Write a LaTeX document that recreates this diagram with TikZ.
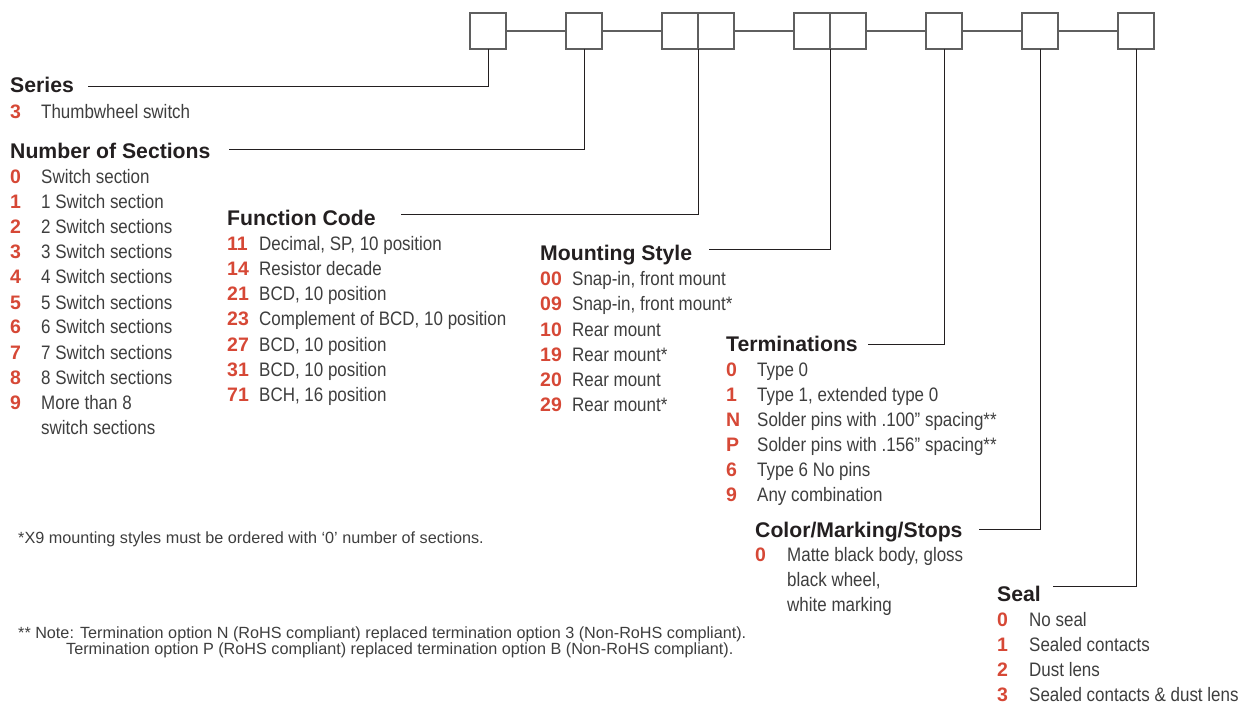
\documentclass[tikz,border=0pt]{standalone}
\usepackage{fontspec}
\setmainfont{Liberation Sans}
\newfontfamily\condfont{Liberation Sans}[FakeStretch=0.87]
\definecolor{codered}{RGB}{214,72,54}
\definecolor{headblack}{RGB}{35,31,32}
\definecolor{bodygray}{RGB}{62,62,62}
\definecolor{boxgray}{RGB}{95,95,95}
\tikzset{
 codebox/.style={draw=boxgray, line width=1.4pt, minimum width=36pt, minimum height=36pt, inner sep=0pt, outer sep=0pt, anchor=north west},
 head/.style={anchor=base west, inner sep=0pt, text=headblack, font=\fontsize{21.2}{24}\selectfont\bfseries},
 num/.style={anchor=base west, inner sep=0pt, text=codered, font=\fontsize{19.5}{24}\selectfont\bfseries},
 desc/.style={anchor=base west, inner sep=0pt, text=bodygray, font=\condfont\fontsize{19.5}{24}\selectfont},
 note/.style={anchor=base west, inner sep=0pt, text=bodygray, font=\fontsize{16.2}{18}\selectfont},
 leader/.style={draw=headblack, line width=1pt},
 chain/.style={draw=boxgray, line width=1.4pt},
}
\newcommand\optrow[6]{%
 \node[num] (#1-n) at (#2,#4) {#5};
 \node[desc] (#1-t) at (#3,#4) {#6};}
\begin{document}
\begin{tikzpicture}[x=1pt,y=-1pt]
\useasboundingbox (0,0) rectangle (1242,703);
% code boxes
\node[codebox] (b1) at (470,13) {};
\node[codebox] (b2) at (566,13) {};
\node[codebox] (b3a) at (662,13) {};
\node[codebox] (b3b) at (698,13) {};
\node[codebox] (b4a) at (794,13) {};
\node[codebox] (b4b) at (830,13) {};
\node[codebox] (b5) at (926,13) {};
\node[codebox] (b6) at (1022,13) {};
\node[codebox] (b7) at (1118,13) {};
\draw[chain] (b1.east) -- (b2.west);
\draw[chain] (b2.east) -- (b3a.west);
\draw[chain] (b3b.east) -- (b4a.west);
\draw[chain] (b4b.east) -- (b5.west);
\draw[chain] (b5.east) -- (b6.west);
\draw[chain] (b6.east) -- (b7.west);
% leader starts
\coordinate (l1) at (88,87);
\coordinate (l2) at (229,150);
\coordinate (l3) at (401,215);
\coordinate (l4) at (709,250);
\coordinate (l5) at (868,344);
\coordinate (l6) at (979,529);
\coordinate (l7) at (1053,586);
\draw[leader] (l1) -| (b1.south);
\draw[leader] (l2) -| (b2.south);
\draw[leader] (l3) -| (b3a.south east);
\draw[leader] (l4) -| (b4a.south east);
\draw[leader] (l5) -| (b5.south);
\draw[leader] (l6) -| (b6.south);
\draw[leader] (l7) -| (b7.south);
% Series
\node[head] (hser) at (10,93) {Series};
\optrow{ser3}{10}{41}{119}{3}{Thumbwheel switch}
% Number of sections
\node[head] (hns) at (10,159) {Number of Sections};
\optrow{ns0}{10}{41}{184}{0}{Switch section}
\optrow{ns1}{10}{41}{209}{1}{1 Switch section}
\optrow{ns2}{10}{41}{234}{2}{2 Switch sections}
\optrow{ns3}{10}{41}{259}{3}{3 Switch sections}
\optrow{ns4}{10}{41}{284}{4}{4 Switch sections}
\optrow{ns5}{10}{41}{309}{5}{5 Switch sections}
\optrow{ns6}{10}{41}{334}{6}{6 Switch sections}
\optrow{ns7}{10}{41}{359}{7}{7 Switch sections}
\optrow{ns8}{10}{41}{384}{8}{8 Switch sections}
\optrow{ns9}{10}{41}{409}{9}{More than 8}
\node[desc] (ns9b) at (41,434) {switch sections};
% Function code
\node[head] (hfc) at (227,226) {Function Code};
\optrow{fc11}{227}{259}{251}{11}{Decimal, SP, 10 position}
\optrow{fc14}{227}{259}{276}{14}{Resistor decade}
\optrow{fc21}{227}{259}{301}{21}{BCD, 10 position}
\optrow{fc23}{227}{259}{326}{23}{Complement of BCD, 10 position}
\optrow{fc27}{227}{259}{351}{27}{BCD, 10 position}
\optrow{fc31}{227}{259}{376}{31}{BCD, 10 position}
\optrow{fc71}{227}{259}{401}{71}{BCH, 16 position}
% Mounting style
\node[head] (hms) at (540,261) {Mounting Style};
\optrow{ms00}{540}{572}{286}{00}{Snap-in, front mount}
\optrow{ms09}{540}{572}{311}{09}{Snap-in, front mount*}
\optrow{ms10}{540}{572}{336}{10}{Rear mount}
\optrow{ms19}{540}{572}{361}{19}{Rear mount*}
\optrow{ms20}{540}{572}{386}{20}{Rear mount}
\optrow{ms29}{540}{572}{411}{29}{Rear mount*}
% Terminations
\node[head] (hte) at (726,351) {Terminations};
\optrow{te0}{726}{757}{376}{0}{Type 0}
\optrow{te1}{726}{757}{401}{1}{Type 1, extended type 0}
\optrow{teN}{726}{757}{426}{N}{Solder pins with .100” spacing**}
\optrow{teP}{726}{757}{451}{P}{Solder pins with .156” spacing**}
\optrow{te6}{726}{757}{476}{6}{Type 6 No pins}
\optrow{te9}{726}{757}{501}{9}{Any combination}
% Color / Marking / Stops
\node[head] (hcm) at (755,537) {Color/Marking/Stops};
\optrow{cm0}{755}{787}{561}{0}{Matte black body, gloss}
\node[desc] (cm0b) at (787,586) {black wheel,};
\node[desc] (cm0c) at (787,611) {white marking};
% Seal
\node[head] (hse) at (997,601) {Seal};
\optrow{se0}{997}{1029}{626}{0}{No seal}
\optrow{se1}{997}{1029}{651}{1}{Sealed contacts}
\optrow{se2}{997}{1029}{676}{2}{Dust lens}
\optrow{se3}{997}{1029}{701}{3}{Sealed contacts \& dust lens}
% Notes
\node[note] (fn1) at (18,543) {*X9 mounting styles must be ordered with ‘0’ number of sections.};
\node[note] (fn2a) at (18,638) {** Note: Termination option N (RoHS compliant) replaced termination option 3 (Non-RoHS compliant).};
\node[note] (fn2b) at (66,654) {Termination option P (RoHS compliant) replaced termination option B (Non-RoHS compliant).};
\end{tikzpicture}
\end{document}
